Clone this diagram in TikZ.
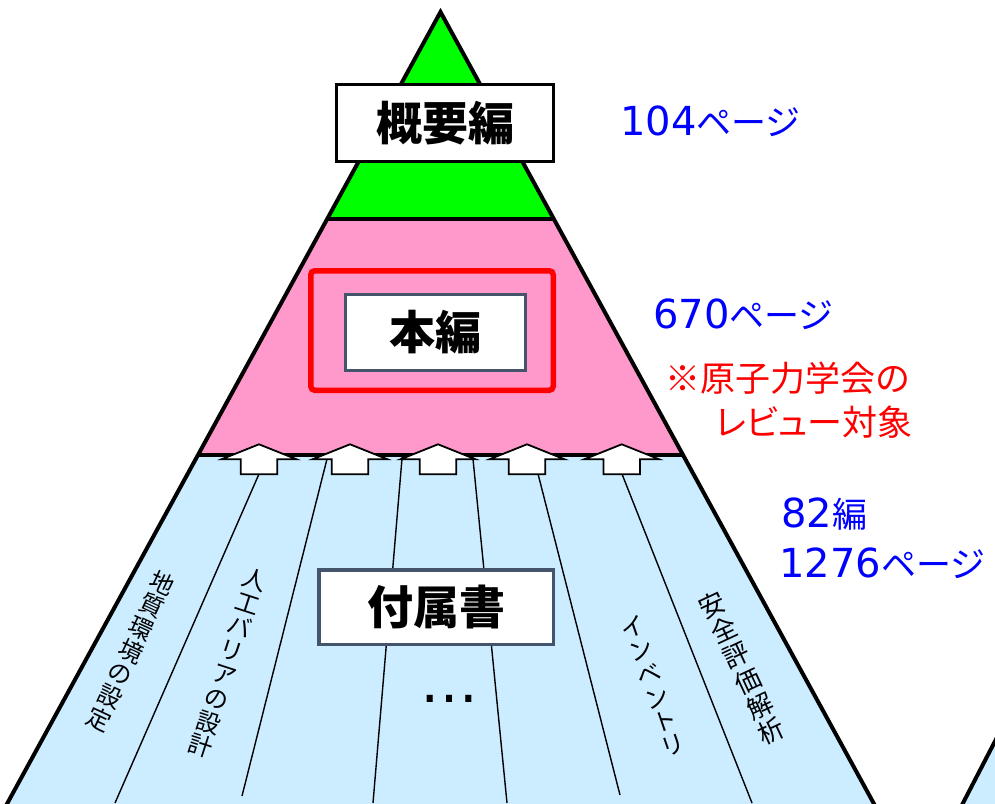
\documentclass[tikz,border=0pt]{standalone}
\usepackage{fontspec}
\newfontfamily\jp{Noto Sans CJK JP}
\newfontfamily\jpp[RawFeature=+palt]{Noto Sans CJK JP}
\newfontfamily\dejavu{DejaVu Sans}
\definecolor{grn}{HTML}{00FF00}
\definecolor{pnk}{HTML}{FF99CC}
\definecolor{lblue}{HTML}{CCECFF}
\definecolor{slate}{HTML}{44546A}
\definecolor{bluetxt}{HTML}{0000FF}
\definecolor{redtxt}{HTML}{FF0000}
\newcommand\numtxt[1]{{\dejavu\fontsize{40}{44}\selectfont #1}}
\newcommand\jptxt[1]{{\jp\fontsize{35}{40}\selectfont #1}}
\begin{document}
\begin{tikzpicture}[x=1pt,y=-1pt,
  edge/.style={draw=black, line width=4pt},
  divline/.style={draw=black, line width=1.4pt},
  uparrow/.style={draw=black, fill=white, line width=1.8pt, line join=miter},
  labelbox/.style={fill=white, inner sep=0pt, font=\jp\bfseries\fontsize{46}{50}\selectfont},
  vlabel/.style={align=center, inner sep=0pt, font=\jp\fontsize{24}{25}\selectfont},
  side/.style={anchor=base west, inner sep=0pt}]
\useasboundingbox (0,0) rectangle (995,803);
\clip (0,0) rectangle (995,803);
\fill[white] (0,0) rectangle (995,803);
% pyramid corners
\coordinate (A) at (440.5,12);
\coordinate (GL) at (327.2,219);
\coordinate (GR) at (553.8,219);
\coordinate (PL) at (198,455);
\coordinate (PR) at (683,455);
\coordinate (BL) at (2,813);
\coordinate (BR) at (879,813);
% fills
\fill[grn] (A)--(GR)--(GL)--cycle;
\fill[pnk] (GL)--(GR)--(PR)--(PL)--cycle;
\fill[lblue] (PL)--(PR)--(BR)--(BL)--cycle;
% neighbouring pyramid at bottom right
\coordinate (N1) at (1006,720);
\coordinate (N2) at (949,830);
\fill[lblue] (N1)--(N2)--(1020,830)--(1020,720)--cycle;
\draw[edge] (N1)--(N2);
% appendix dividers
\draw[divline] (267.3,455)--(115,803);
\draw[divline] (328,455)--(242,796);
\draw[divline] (402.3,455)--(373,803);
\draw[divline] (472.6,455)--(507,803);
\draw[divline] (533.2,455)--(620,795);
\draw[divline] (614.5,455)--(752,803);
% outline
\draw[edge, line join=miter] (BL)--(A)--(BR);
\draw[edge] (GL)--(GR);
\draw[edge] (PL)--(PR);
% arrows
\foreach \cx in {259,350,438,527,621.7}
  \draw[uparrow] (\cx,444.3)--(\cx+37.5,459.3)--(\cx+18.3,459.3)--(\cx+18.3,474.3)
    --(\cx-18.3,474.3)--(\cx-18.3,459.3)--(\cx-37.5,459.3)--cycle;
% boxes
\node[labelbox, draw=black, line width=3.3pt, minimum width=216.7pt, minimum height=76.7pt] (gaiyo) at (445,123) {概要編};
\node[draw=redtxt, line width=5.5pt, rounded corners=4pt, minimum width=242.5pt, minimum height=119.5pt] (review) at (432,330.5) {};
\node[labelbox, draw=slate, line width=3pt, minimum width=180pt, minimum height=76pt] (honpen) at (435.5,332.5) {本編};
\node[labelbox, draw=slate, line width=3.5pt, minimum width=234.5pt, minimum height=74.5pt] (fuzoku) at (436,607) {付属書};
\node[anchor=base, inner sep=0pt, font=\dejavu\fontsize{58}{60}\selectfont] (dots) at (449,702) {…};
% vertical labels
\node[vlabel, rotate=-25] (chishitsu) at (131,651) {地\\質\\環\\境\\の\\設\\定};
\node[vlabel, rotate=-18] (jinko) at (228,663) {人\\工\\バ\\リ\\ア\\の\\設\\計};
\node[vlabel, rotate=19] (inventory) at (653,686) {イ\\ン\\ベ\\ン\\ト\\リ};
\node[vlabel, font=\jp\fontsize{26}{28}\selectfont, rotate=25] (anzen) at (742,668) {安\\全\\評\\価\\解\\析};
% side notes
\node[side, text=bluetxt] (p104) at (620,135) {\numtxt{104}\jptxt{ページ}};
\node[side, text=bluetxt] (p670) at (653,328) {\numtxt{670}\jptxt{ページ}};
\node[side, text=redtxt] (note1) at (665,391) {\jptxt{※原子力学会の}};
\node[side, text=redtxt] (note2) at (715,435) {{\jpp\fontsize{35}{40}\selectfont レビュー対象}};
\node[side, text=bluetxt] (n82) at (781,527) {\numtxt{82}\jptxt{編}};
\node[side, text=bluetxt] (p1276) at (779,577) {\numtxt{1276}\jptxt{ページ}};
\end{tikzpicture}
\end{document}
